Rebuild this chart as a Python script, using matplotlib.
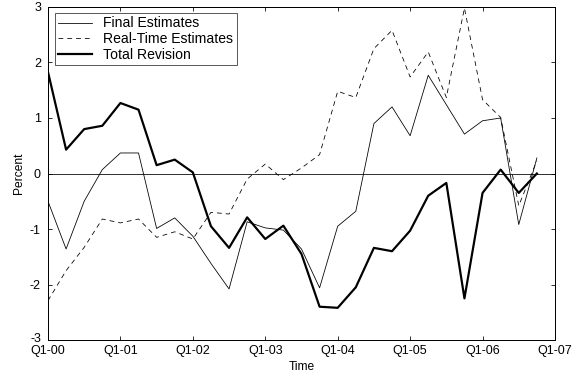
import numpy as np
import matplotlib
matplotlib.use('Agg')
import matplotlib.pyplot as plt
from matplotlib.transforms import ScaledTranslation

# quarterly data, Q1-2000 to Q4-2006
final_est = [-0.50, -1.36, -0.50, 0.07, 0.37, 0.37, -0.99, -0.80,
             -1.13, -1.62, -2.08, -0.87, -0.98, -1.02, -1.36, -2.06,
             -0.95, -0.68, 0.90, 1.20, 0.68, 1.77, 1.24, 0.71,
             0.95, 1.00, -0.92, 0.28]
realtime_est = [-2.29, -1.75, -1.33, -0.82, -0.89, -0.82, -1.15, -1.05,
                -1.18, -0.70, -0.73, -0.10, 0.17, -0.11, 0.10, 0.34,
                1.48, 1.37, 2.25, 2.58, 1.74, 2.19, 1.37, 2.98,
                1.33, 1.01, -0.58, 0.23]
total_rev = [1.83, 0.43, 0.80, 0.86, 1.27, 1.15, 0.15, 0.25,
             0.02, -0.95, -1.34, -0.79, -1.18, -0.94, -1.45, -2.40,
             -2.42, -2.05, -1.34, -1.40, -1.03, -0.40, -0.17, -2.25,
             -0.35, 0.07, -0.35, 0.00]
year_labels = ['Q1-00', 'Q1-01', 'Q1-02', 'Q1-03', 'Q1-04', 'Q1-05', 'Q1-06', 'Q1-07']

plt.rcParams['font.family'] = ['Liberation Sans', 'DejaVu Sans']
plt.rcParams['axes.unicode_minus'] = False

t = 2000 + np.arange(len(total_rev)) / 4.0

fig = plt.figure(figsize=(8, 5.25), dpi=72)
ax = fig.add_axes([0.0833, 0.1005, 0.8802, 0.881])

ax.axhline(0, color='black', lw=0.8)
ax.plot(t, final_est, color='black', lw=0.8, label='Final Estimates')
ax.plot(t, realtime_est, color='black', lw=0.8, dashes=(6, 5), label='Real-Time Estimates')
ax.plot(t, total_rev, color='black', lw=2.2, label='Total Revision')

ax.set_xlim(2000, 2007)
ax.set_ylim(-3, 3)
ax.set_xticks(np.arange(2000, 2008))
ax.set_xticklabels(year_labels)
ax.set_yticks(np.arange(-3, 4))
ax.tick_params(direction='in', top=True, right=True, length=4, width=0.8,
               labelsize=12.5)
ax.tick_params(axis='x', pad=5)
ax.tick_params(axis='y', pad=7)
for s in ax.spines.values():
    s.set_linewidth(1.0)

# lift the bottom y label a little so it clears the first date label
lowest = ax.get_yticklabels()[0]
lowest.set_transform(lowest.get_transform() + ScaledTranslation(0, 3 / 72, fig.dpi_scale_trans))

ax.set_xlabel('Time', fontsize=12, labelpad=4)
ax.set_ylabel('Percent', fontsize=12, labelpad=5)

leg = ax.legend(loc='upper left', fontsize=14, frameon=True, fancybox=False,
                edgecolor='black', handlelength=2.4, borderpad=0.25,
                labelspacing=0.12, handletextpad=0.8, borderaxespad=0,
                bbox_to_anchor=(0.0138, 0.982))
leg.get_frame().set_linewidth(0.8)

fig.savefig('out.png', dpi=72)
